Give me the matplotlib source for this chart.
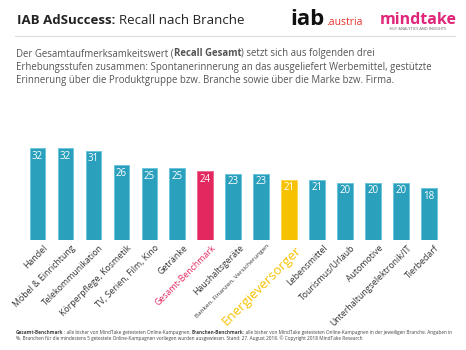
import matplotlib.pyplot as plt
import numpy as np

# data
branchen = [
    "Handel", "Möbel & Einrichtung", "Telekommunikation", "Körperpflege, Kosmetik",
    "TV, Serien, Film, Kino", "Getränke", "Gesamt-Benchmark", "Haushaltsgeräte",
    "Banken, Finanzen, Versicherungen", "Energieversorger", "Lebensmittel",
    "Tourismus/Urlaub", "Automotive", "Unterhaltungselektronik/IT", "Tierbedarf",
]
recall = [32, 32, 31, 26, 25, 25, 24, 23, 23, 21, 21, 20, 20, 20, 18]

TEAL, TEAL_EDGE = "#2aa0bd", "#6cc6dc"
PINK, PINK_EDGE = "#e3285f", "#ef6a92"
YELLOW, YELLOW_EDGE = "#f6c100", "#fbd94f"
TEXT = "#333333"

plt.rcParams["font.family"] = ["Open Sans", "DejaVu Sans"]

W, H = 466, 350
fig = plt.figure(figsize=(W / 100, H / 100), dpi=100)


def px(x, y):
    # pixel coords (from top-left) -> figure fraction
    return x / W, 1 - y / H


def rich_line(x, y, pieces, size, color):
    # draw text pieces side by side, each with its own weight
    renderer = fig.canvas.get_renderer()
    fx, fy = px(x, y)
    for s, weight in pieces:
        t = fig.text(fx, fy, s, fontsize=size, fontweight=weight, color=color,
                     ha="left", va="baseline")
        bb = t.get_window_extent(renderer)
        fx += bb.width / W


# header
rich_line(17, 24, [("IAB AdSuccess: ", "bold"), ("Recall nach Branche", "normal")], 9.5, "#222222")
fig.add_artist(plt.Line2D([15 / W, 455 / W], [1 - 36 / H] * 2, color="#dddddd", lw=0.8))

# logos as text
rich_line(290, 25, [("iab", "bold")], 16, "#111111")
fig.text(*px(326, 25), ".austria", fontsize=7.5, color="#e5322b", ha="left", va="baseline")
fig.text(*px(418, 24), "mindtake", fontsize=11.5, fontweight="bold", color="#e0267a",
         ha="center", va="baseline")
fig.text(*px(418, 30), "360° ANALYTICS AND INSIGHTS", fontsize=2.8, color="#666666",
         ha="center", va="baseline")

# intro paragraph
para_size = 6.9
rich_line(16, 56, [("Der Gesamtaufmerksamkeitswert (", "normal"), ("Recall Gesamt", "bold"),
                   (") setzt sich aus folgenden drei", "normal")], para_size, "#555555")
rich_line(16, 70, [("Erhebungsstufen zusammen: Spontanerinnerung an das ausgeliefert Werbemittel, gestützte", "normal")],
          para_size, "#555555")
rich_line(16, 83, [("Erinnerung über die Produktgruppe bzw. Branche sowie über die Marke bzw. Firma.", "normal")],
          para_size, "#555555")

# bars
ax = fig.add_axes([23.5 / W, 1 - 240 / H, (443 - 23.5) / W, 92 / H])
x = np.arange(len(branchen))
colors, edges = [], []
for name in branchen:
    if name == "Gesamt-Benchmark":
        colors.append(PINK); edges.append(PINK_EDGE)
    elif name == "Energieversorger":
        colors.append(YELLOW); edges.append(YELLOW_EDGE)
    else:
        colors.append(TEAL); edges.append(TEAL_EDGE)
ax.bar(x, recall, width=0.56, color=colors, edgecolor=edges, linewidth=0.7)
for xi, v in zip(x, recall):
    ax.text(xi, v - 0.9, str(v), ha="center", va="top", color="white", fontsize=7)

ax.set_xlim(-0.5, len(branchen) - 0.5)
ax.set_ylim(0, 32)
ax.axis("off")

for xi, name in zip(x, branchen):
    size, col = 6.3, TEXT
    if name == "Gesamt-Benchmark":
        col = PINK
    elif name == "Energieversorger":
        size, col = 9.5, YELLOW
    elif name.startswith("Banken"):
        size = 4.6
    ax.text(xi + 0.2, -1.2, name, rotation=45, rotation_mode="anchor", ha="right", va="top",
            fontsize=size, color=col)

# footnote
fs = 3.4
rich_line(16, 334, [("Gesamt-Benchmark", "bold"),
                    (": alle bisher von MindTake getesteten Online-Kampagnen, ", "normal"),
                    ("Branchen-Benchmark", "bold"),
                    (": alle bisher von MindTake getesteten Online-Kampagnen in der jeweiligen Branche. Angaben in", "normal")],
          fs, "#444444")
rich_line(16, 340, [("%. Branchen für die mindestens 5 getestete Online-Kampagnen vorliegen wurden ausgewiesen. Stand: 27. August 2018. © Copyright 2018 MindTake Research", "normal")],
          fs, "#444444")

fig.savefig("out.png", dpi=100, facecolor="white")
